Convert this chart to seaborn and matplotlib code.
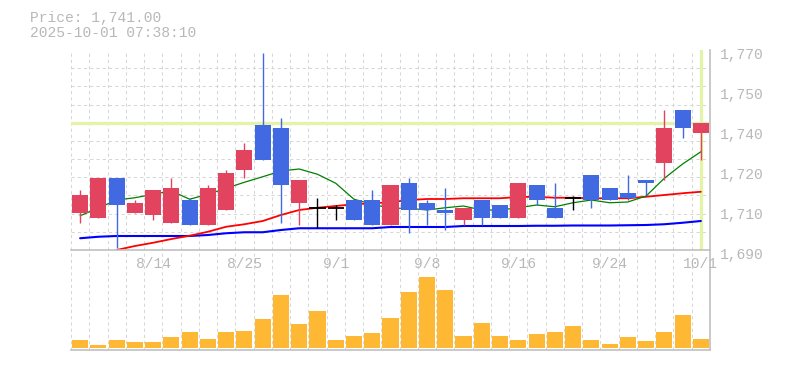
import numpy as np
import pandas as pd
import matplotlib
matplotlib.use("Agg")
import matplotlib.pyplot as plt
from matplotlib.transforms import ScaledTranslation
import seaborn as sns

# ---------------- data ----------------
opens = [1705, 1703, 1719, 1705, 1704, 1701, 1710, 1700, 1706, 1722, 1740, 1739,
         1709, 1707, 1707, 1710, 1710, 1700, 1717, 1709, 1706, 1702, 1710, 1708,
         1703, 1716, 1707, 1711, 1720, 1715, 1713, 1718, 1725, 1746, 1737]
closes = [1712, 1719, 1708, 1709, 1714, 1715, 1700, 1715, 1721, 1730, 1726, 1716,
          1718, 1707, 1707, 1702, 1700, 1716, 1706, 1706, 1705, 1707, 1703, 1703,
          1717, 1710, 1703, 1711, 1710, 1710, 1711, 1717, 1739, 1739, 1741]
highs = [1714, 1719, 1719, 1710, 1714, 1719, 1711, 1716, 1722, 1733, 1769, 1743,
         1718, 1711, 1708, 1710, 1714, 1716, 1719, 1710, 1715, 1707, 1710, 1708,
         1717, 1716, 1717, 1711.5, 1720, 1715, 1720, 1718, 1746, 1746, 1741]
lows = [1701, 1703, 1691, 1705, 1702, 1701, 1700, 1700, 1706, 1719, 1726, 1701,
        1700, 1699, 1702, 1702, 1700, 1700, 1697, 1700, 1698, 1700, 1700, 1703,
        1703, 1708, 1703, 1706, 1707, 1710, 1710, 1712, 1718, 1735, 1726]
volume = [8, 3, 8, 6, 6, 11, 16, 9, 16, 17, 29, 53, 24, 37, 8, 12, 15, 30,
          56, 71, 58, 12, 25, 12, 8, 14, 16, 22, 8, 4, 11, 7, 16, 33, 9]
ma_short = [1703.7, 1706.8, 1710.0, 1710.9, 1712.3, 1713.6, 1710.3, 1712.3, 1714.7,
            1717.1, 1719.3, 1721.6, 1722.4, 1720.3, 1716.7, 1710.3, 1708.3, 1706.7,
            1706.7, 1706.0, 1706.9, 1707.6, 1706.0, 1706.0, 1706.9, 1708.0, 1707.3,
            1708.9, 1710.0, 1708.9, 1709.2, 1711.6, 1718.7, 1724.4, 1729.3]
ma_mid = [np.nan, np.nan, 1690.0, 1691.6, 1692.9, 1694.4, 1695.7, 1697.3, 1699.3,
          1700.3, 1701.6, 1704.0, 1706.0, 1706.9, 1707.6, 1708.3, 1708.7, 1709.1,
          1710.0, 1710.4, 1710.4, 1710.7, 1710.7, 1710.7, 1711.2, 1711.3, 1710.9,
          1710.9, 1710.7, 1710.7, 1710.7, 1711.3, 1712.0, 1712.7, 1713.3]
ma_long = [1694.7, 1695.3, 1695.6, 1695.6, 1695.6, 1695.6, 1695.6, 1696.0, 1696.7,
           1697.1, 1697.1, 1698.0, 1698.7, 1698.7, 1698.7, 1698.7, 1698.7, 1699.2,
           1699.2, 1699.2, 1699.2, 1699.6, 1699.6, 1699.6, 1699.6, 1699.7, 1699.7,
           1699.8, 1699.8, 1699.8, 1699.9, 1700.0, 1700.3, 1700.9, 1701.6]
date_tick_idx = [4, 9, 14, 19, 24, 29, 34]
date_labels = ["8/14", "8/25", "9/1", "9/8", "9/16", "9/24", "10/1"]
price_ticks = [1690, 1706, 1722, 1738, 1754, 1770]
price_labels = ["1,690", "1,710", "1,720", "1,740", "1,750", "1,770"]
title_price = "Price: 1,741.00"
title_time = "2025-10-01 07:38:10"

# ---------------- style ----------------
UP = "#E2435F"
DOWN = "#4169E1"
DOJI = "#000000"
VOLC = "#FFB833"
CROSS = "#E3F4AA"
GRID = "#d6d6d6"
SPINE = "#c0c0c0"
TXT = "#b8b8b8"

sns.set_style("white")
plt.rcParams["font.family"] = ["Liberation Mono", "DejaVu Sans Mono"]

W, H = 785, 370
fig = plt.figure(figsize=(W / 100, H / 100), dpi=100)
fig.patch.set_facecolor("white")

ax = fig.add_axes([71 / W, 1 - 250 / H, 639 / W, 200 / H])
axv = fig.add_axes([71 / W, 1 - 350 / H, 639 / W, 100 / H])

n = len(opens)
idx = np.arange(n)
df = pd.DataFrame({"i": idx, "o": opens, "c": closes, "h": highs, "l": lows,
                   "v": volume, "ma5": ma_short, "ma25": ma_mid, "ma75": ma_long})

# ---------------- price panel ----------------
ax.set_xlim(-0.5, n - 0.5)
ax.set_ylim(1690, 1770)

# crosshair
ax.axhline(closes[-1], color=CROSS, lw=2.4, zorder=1.5)
ax.axvline(idx[-1], color=CROSS, lw=2.4, zorder=1.5)

# moving averages
sns.lineplot(data=df, x="i", y="ma75", color="#0000FF", lw=1.5, ax=ax, zorder=2)
sns.lineplot(data=df, x="i", y="ma25", color="#FF0000", lw=1.3, ax=ax, zorder=2)
sns.lineplot(data=df, x="i", y="ma5", color="#008000", lw=0.9, ax=ax, zorder=2)

# candles
o = df["o"].to_numpy(float)
c = df["c"].to_numpy(float)
colors = [UP if cc > oo else (DOWN if cc < oo else DOJI) for oo, cc in zip(o, c)]
ax.vlines(idx, df["l"], df["h"], colors=colors, lw=1.0, zorder=3)
body = np.abs(c - o)
mask = body > 0
ax.bar(idx[mask], body[mask], bottom=np.minimum(o, c)[mask], width=0.88,
       color=np.array(colors)[mask], linewidth=0, zorder=4)
dmask = ~mask
ax.hlines(o[dmask], idx[dmask] - 0.44, idx[dmask] + 0.44, colors=DOJI, lw=1.3, zorder=4)

# grid
ax.set_xticks(np.arange(-0.5, n, 1), minor=True)
ax.set_yticks(np.linspace(1690, 1770, 12), minor=True)
ax.grid(False)
ax.grid(True, which="minor", color=GRID, lw=0.75, ls=(0, (3, 3)))
ax.set_axisbelow(True)

ax.set_xticks(date_tick_idx, date_labels)
ax.yaxis.tick_right()
ax.set_yticks(price_ticks, price_labels)
ax.tick_params(axis="both", which="both", length=0)
ax.tick_params(axis="x", pad=5, labelsize=10.5, labelcolor=TXT)
ax.tick_params(axis="y", pad=7, labelsize=10.5, labelcolor=TXT)
off = ScaledTranslation(0, -3 / 100, fig.dpi_scale_trans)
for lab in ax.get_yticklabels():
    lab.set_transform(lab.get_transform() + off)
ax.set_xlabel("")
ax.set_ylabel("")
for s in ["top", "left"]:
    ax.spines[s].set_visible(False)
for s in ["bottom", "right"]:
    ax.spines[s].set_color(SPINE)
    ax.spines[s].set_linewidth(1.2)
    ax.spines[s].set_zorder(5)
ax.patch.set_alpha(0)

# ---------------- volume panel ----------------
sns.barplot(data=df, x="i", y="v", color=VOLC, saturation=1, width=0.88,
            errorbar=None, native_scale=True, edgecolor="none", linewidth=0,
            ax=axv, zorder=3)
axv.set_xlim(-0.5, n - 0.5)
axv.set_ylim(-2, 98)
axv.set_xticks(np.arange(-0.5, n, 1), minor=True)
axv.set_xticks([])
axv.set_yticks([])
axv.grid(False)
axv.grid(True, which="minor", axis="x", color=GRID, lw=0.75, ls=(0, (3, 3)))
axv.set_axisbelow(True)
axv.tick_params(which="both", length=0)
axv.set_xlabel("")
axv.set_ylabel("")
for s in ["top", "left"]:
    axv.spines[s].set_visible(False)
for s in ["bottom", "right"]:
    axv.spines[s].set_color(SPINE)
    axv.spines[s].set_linewidth(1.2)
axv.patch.set_alpha(0)
ax.set_zorder(2)

# ---------------- header texts ----------------
fig.text(30 / W, 1 - 18 / H, title_price, color=TXT, fontsize=10.5, va="center", ha="left")
fig.text(30 / W, 1 - 33 / H, title_time, color=TXT, fontsize=10.5, va="center", ha="left")

fig.savefig("out.png", dpi=100, facecolor="white")
